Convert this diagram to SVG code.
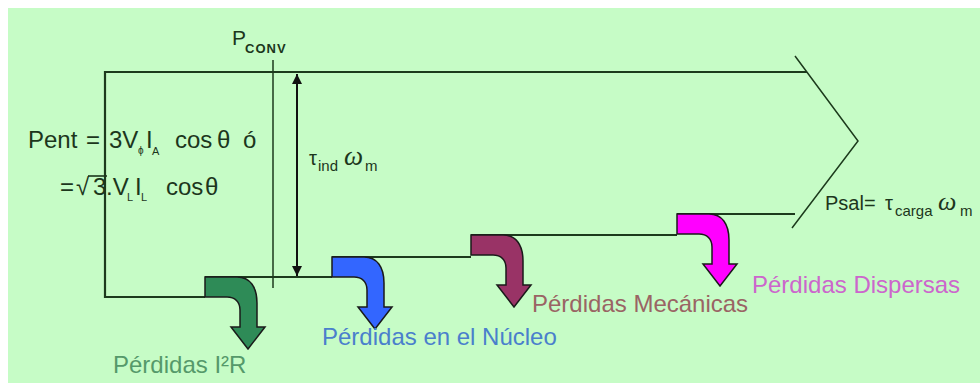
<svg xmlns="http://www.w3.org/2000/svg" width="980" height="383" viewBox="0 0 980 383">
<style>
.ln{stroke:#1c3a1c;stroke-width:2.2;fill:none}
.thin{stroke:#1c3a1c;stroke-width:1.5;fill:none}
.t{font-family:"Liberation Sans",Arial,sans-serif;fill:#1c361c}
.lbl{font-family:"Liberation Sans",Arial,sans-serif;font-size:24px}
.arr{stroke:#1a1a1a;stroke-width:1.5;stroke-linejoin:miter}
.om{font-family:"Liberation Serif",serif;font-style:italic}
</style>
<defs>
<path id="bend" d="M0,0 H32 C45,0 52,10 52,26 V50 H60 L43,72 L26,50 H35 V33 C35,25 30,20 22,20 H0 Z"/>
<marker id="ah" viewBox="0 0 10 10" refX="10" refY="5" markerWidth="10" markerHeight="10" markerUnits="userSpaceOnUse" orient="auto-start-reverse">
<path d="M0,0 L10,5 L0,10 Z" fill="#111"/>
</marker>
</defs>
<rect x="8" y="8" width="972" height="375" fill="#c6fcc6"/>

<g id="connectors">
<polyline class="ln" points="807,72 105,72 105,297 205,297"/>
<line class="ln" x1="205" y1="277" x2="332" y2="277"/>
<line class="ln" x1="332" y1="257" x2="471" y2="257"/>
<line class="ln" x1="471" y1="235" x2="677" y2="235"/>
<line class="ln" x1="677" y1="214" x2="795" y2="214"/>
<polyline class="thin" points="795,56 858,141 792,228"/>
<line class="thin" x1="273" y1="60" x2="273" y2="288"/>
<line stroke="#111" stroke-width="2" x1="297" y1="74" x2="297" y2="276" marker-start="url(#ah)" marker-end="url(#ah)"/>
</g>

<g id="pconv">
<text class="t" x="232" y="45" font-size="21">P<tspan x="245" y="53" font-size="13" font-weight="bold" letter-spacing="1">CONV</tspan></text>
</g>

<g id="pent">
<text class="t" font-size="24">
<tspan x="28" y="148">Pent</tspan><tspan x="86" y="148">=</tspan><tspan x="109" y="148">3V</tspan><tspan x="138" y="154" font-size="10">ϕ</tspan><tspan x="146" y="148">I</tspan><tspan x="152" y="155" font-size="11">A</tspan><tspan x="175" y="148">cos</tspan><tspan x="217" y="148">θ</tspan><tspan x="243" y="148">ó</tspan>
</text>
<text class="t" font-size="24">
<tspan x="60" y="195">=</tspan><tspan x="76" y="195">√</tspan><tspan x="93" y="195">3</tspan><tspan x="106" y="195">.V</tspan><tspan x="127" y="201" font-size="11">L</tspan><tspan x="135" y="195">I</tspan><tspan x="141" y="201" font-size="11">L</tspan><tspan x="166" y="195">cos</tspan><tspan x="205" y="195">θ</tspan>
</text>
<line stroke="#1c361c" stroke-width="1.6" x1="88" y1="176" x2="107" y2="176"/>
</g>

<g id="tind">
<text class="t" x="309" y="165" font-size="20">τ<tspan x="318" y="171" font-size="15">ind</tspan><tspan class="om" x="344" y="165" font-size="27">ω</tspan><tspan x="365" y="171" font-size="15">m</tspan></text>
</g>

<g id="psal">
<text class="t" x="825" y="210" font-size="20">Psal=<tspan x="885" y="210">τ</tspan><tspan x="895" y="216" font-size="15">carga</tspan><tspan class="om" x="938" y="210" font-size="26">ω</tspan><tspan x="960" y="216" font-size="15">m</tspan></text>
</g>

<g id="loss-i2r">
<use href="#bend" x="205" y="277" class="arr" fill="#2e8b57"/>
<text class="lbl" x="113" y="373" fill="#55996a">Pérdidas I²R</text>
</g>

<g id="loss-nucleo">
<use href="#bend" x="332" y="257" class="arr" fill="#3366ff"/>
<text class="lbl" x="322" y="345" fill="#4a7fcc">Pérdidas en el Núcleo</text>
</g>

<g id="loss-mecanicas">
<use href="#bend" x="471" y="235" class="arr" fill="#993366"/>
<text class="lbl" x="532" y="312" fill="#9a6464">Pérdidas Mecánicas</text>
</g>

<g id="loss-dispersas">
<use href="#bend" x="677" y="214" class="arr" fill="#ff00ff"/>
<text class="lbl" x="752" y="293" fill="#cc66cc">Pérdidas Dispersas</text>
</g>
</svg>
